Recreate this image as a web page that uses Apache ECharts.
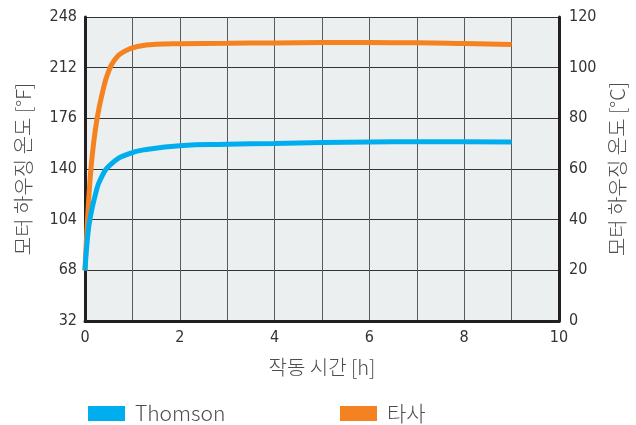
<!doctype html>
<html>
	<head>
		<meta charset="utf-8">
		<title>Motor housing temperature (ECharts)</title>
		<style>
			html, body { margin: 0; padding: 0; background: #fff; }
		</style>
	</head>
	<body>
		<script src="https://cdn.jsdelivr.net/npm/echarts@6/dist/echarts.min.js"></script>

		<div id="chart" style="width: 636px; height: 425px;"></div>

		<script>
			// temperatures in °F
			let thomsonTime = [0, 0.05, 0.11, 0.22, 0.33, 0.55, 0.92, 1.36, 2, 3, 4, 5, 6, 7, 8, 9];
			let thomsonF    = [68, 90, 105.5, 122, 133, 143.5, 150.7, 154.2, 156.6, 157.6, 158.2, 158.8, 159.2, 159.4, 159.4, 159.2];

			let otherTime = [0, 0.04, 0.11, 0.18, 0.26, 0.37, 0.48, 0.62, 0.84, 1.14, 1.5, 2, 3, 4, 5, 6, 7, 8, 9];
			let otherF    = [68, 96, 134, 157.8, 176.8, 194.6, 207.7, 217.2, 223.8, 227.2, 228.6, 229, 229.3, 229.6, 229.8, 229.8, 229.7, 229.2, 228.5];

			let seriesNames = ["Thomson", "타사"];
			let xTicks = [0, 2, 4, 6, 8, 10];

			const toC = f => (f - 32) / 1.8;
			const pairs = (ts, fs) => ts.map((t, i) => [t, toC(fs[i])]);

			let labelFont = "'DejaVu Sans Condensed', 'Liberation Sans Narrow', 'Noto Sans', sans-serif";
			let krFont = "'Noto Sans CJK KR', 'Noto Sans', sans-serif";

			let myChart = echarts.init(document.getElementById("chart"), null, {
				width: 636,
				height: 425
			});

			let axisLine = { show: true, lineStyle: { color: "#231f20", width: 3 } };
			let nameStyle = { fontFamily: krFont, fontSize: 20, fontWeight: 300, color: "#4d4d4d" };
			let tickStyle = { fontFamily: labelFont, fontSize: 16, color: "#333" };
			let legendText = { fontFamily: krFont, fontSize: 21, fontWeight: 300, color: "#4d4d4d", padding: [0, 0, 0, 5] };

			let opts = {
				animation: false,
				grid: {
					left: 85,
					right: 77,
					top: 17,
					bottom: 104,
					show: true,
					backgroundColor: "#eceff0",
					borderWidth: 0
				},
				legend: [
					{
						data: [seriesNames[0]],
						left: 83,
						top: 398,
						icon: "rect",
						itemWidth: 37,
						itemHeight: 15,
						textStyle: legendText
					},
					{
						data: [seriesNames[1]],
						left: 335,
						top: 398,
						icon: "rect",
						itemWidth: 37,
						itemHeight: 15,
						textStyle: legendText
					}
				],
				xAxis: {
					type: "value",
					min: 0,
					max: 10,
					interval: 1,
					name: "작동 시간 [h]",
					nameLocation: "middle",
					nameGap: 36,
					nameTextStyle: nameStyle,
					axisLine: axisLine,
					axisTick: { show: false },
					axisLabel: Object.assign({
						margin: 9,
						formatter: v => xTicks.includes(v) ? String(v) : ""
					}, tickStyle),
					splitLine: { show: true, lineStyle: { color: "#5a5a5a", width: 1 } }
				},
				yAxis: [
					{
						// °F scale, drawn over the same grid as °C
						type: "value",
						position: "left",
						min: 0,
						max: 120,
						interval: 20,
						name: "모터 하우징 온도 [°F]",
						nameLocation: "middle",
						nameGap: 52,
						nameTextStyle: nameStyle,
						axisLine: axisLine,
						axisTick: { show: false },
						axisLabel: Object.assign({
							margin: 8,
							formatter: v => String(Math.round(v * 1.8 + 32))
						}, tickStyle),
						splitLine: { show: true, lineStyle: { color: "#333", width: 1 } }
					},
					{
						type: "value",
						position: "right",
						min: 0,
						max: 120,
						interval: 20,
						name: "모터 하우징 온도 [°C]",
						nameLocation: "middle",
						nameGap: 40,
						nameTextStyle: nameStyle,
						axisLine: axisLine,
						axisTick: { show: false },
						axisLabel: Object.assign({ margin: 10 }, tickStyle),
						splitLine: { show: false }
					}
				],
				series: [
					{
						name: seriesNames[1],
						type: "line",
						yAxisIndex: 1,
						showSymbol: false,
						smooth: 0.5,
						z: 2,
						lineStyle: { width: 5, color: "#f58220" },
						itemStyle: { color: "#f58220" },
						data: pairs(otherTime, otherF)
					},
					{
						name: seriesNames[0],
						type: "line",
						yAxisIndex: 1,
						showSymbol: false,
						smooth: 0.5,
						z: 3,
						lineStyle: { width: 5, color: "#00aeef" },
						itemStyle: { color: "#00aeef" },
						data: pairs(thomsonTime, thomsonF)
					}
				]
			};

			myChart.setOption(opts, { notMerge: true });
		</script>
	</body>
</html>
